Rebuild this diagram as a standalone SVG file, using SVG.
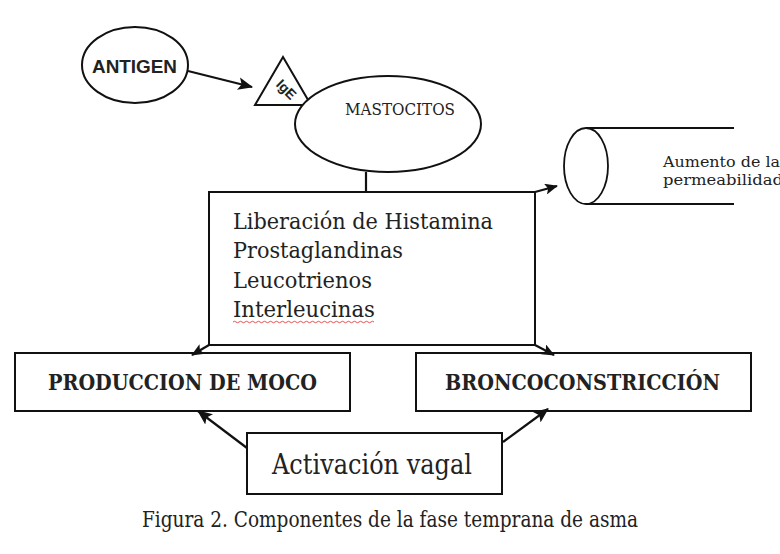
<svg xmlns="http://www.w3.org/2000/svg" width="780" height="554" viewBox="0 0 780 554">
<defs>
<marker id="ah" viewBox="0 0 14 12" refX="13" refY="6" markerWidth="15" markerHeight="13" orient="auto" markerUnits="userSpaceOnUse">
<path d="M0,0 L14,6 L0,12 L3,6 Z" fill="#111"/>
</marker>
<marker id="ahs" viewBox="0 0 14 12" refX="13" refY="6" markerWidth="14" markerHeight="11" orient="auto" markerUnits="userSpaceOnUse">
<path d="M0,0 L14,6 L0,12 L3,6 Z" fill="#111"/>
</marker>
</defs>
<style>
.shape{fill:#fff;stroke:#111;stroke-width:2}
.line{fill:none;stroke:#111;stroke-width:2.2}
.serif{font-family:"DejaVu Serif","Liberation Serif",serif;fill:#222}
.sans{font-family:"Liberation Sans",Arial,sans-serif;font-weight:bold;fill:#222}
</style>
<rect width="780" height="554" fill="#fff"/>

<g id="antigen">
<ellipse class="shape" cx="135" cy="65" rx="53" ry="38"/>
<text class="sans" x="92" y="73" font-size="18" textLength="85" lengthAdjust="spacingAndGlyphs">ANTIGEN</text>
</g>

<g id="ige">
<polygon class="shape" points="255,105 283,57 311,105"/>
<text class="sans" x="0" y="0" font-size="14" text-anchor="middle" transform="translate(283,93) rotate(45)">IgE</text>
</g>

<g id="mastocitos">
<ellipse class="shape" cx="388" cy="124" rx="93" ry="48"/>
<text class="serif" x="345" y="115" font-size="17" fill="#333" textLength="110" lengthAdjust="spacingAndGlyphs">MASTOCITOS</text>
</g>

<g id="permeabilidad">
<line class="line" x1="586" y1="128" x2="734" y2="128" stroke-width="1.8"/>
<line class="line" x1="586" y1="204" x2="734" y2="204" stroke-width="1.8"/>
<ellipse cx="586" cy="166" rx="22" ry="38" fill="none" stroke="#111" stroke-width="1.8"/>
<text class="serif" x="663" y="167" font-size="15" textLength="117" lengthAdjust="spacingAndGlyphs">Aumento de la</text>
<text class="serif" x="663" y="185" font-size="15" textLength="120" lengthAdjust="spacingAndGlyphs">permeabilidad</text>
</g>

<g id="mediadores">
<rect class="shape" x="209" y="192" width="326" height="153"/>
<text class="serif" x="233" y="229" font-size="22" textLength="260" lengthAdjust="spacingAndGlyphs">Liberación de Histamina</text>
<text class="serif" x="233" y="258" font-size="22" textLength="170" lengthAdjust="spacingAndGlyphs">Prostaglandinas</text>
<text class="serif" x="233" y="288" font-size="22" textLength="139" lengthAdjust="spacingAndGlyphs">Leucotrienos</text>
<text class="serif" x="233" y="317" font-size="22" textLength="142" lengthAdjust="spacingAndGlyphs">Interleucinas</text>
<path d="M233,322 q1.5,-1.5 3,0 t3,0 t3,0 t3,0 t3,0 t3,0 t3,0 t3,0 t3,0 t3,0 t3,0 t3,0 t3,0 t3,0 t3,0 t3,0 t3,0 t3,0 t3,0 t3,0 t3,0 t3,0 t3,0 t3,0 t3,0 t3,0 t3,0 t3,0 t3,0 t3,0 t3,0 t3,0 t3,0 t3,0 t3,0 t3,0 t3,0 t3,0 t3,0 t3,0 t3,0 t3,0 t3,0 t3,0 t3,0 t3,0 t3,0" fill="none" stroke="#e04040" stroke-width="0.9"/>
</g>

<g id="moco">
<rect class="shape" x="15" y="353" width="335" height="58"/>
<text class="serif" x="48" y="390" font-size="22" font-weight="bold" textLength="269" lengthAdjust="spacingAndGlyphs">PRODUCCION DE MOCO</text>
</g>

<g id="bronco">
<rect class="shape" x="416" y="353" width="335" height="58"/>
<text class="serif" x="445" y="390" font-size="22" font-weight="bold" textLength="275" lengthAdjust="spacingAndGlyphs">BRONCOCONSTRICCIÓN</text>
</g>

<g id="vagal">
<rect class="shape" x="247" y="433" width="255" height="61"/>
<text class="serif" x="272" y="474" font-size="27" textLength="200" lengthAdjust="spacingAndGlyphs">Activación vagal</text>
</g>

<g id="connectors">
<line class="line" x1="188" y1="71" x2="252" y2="87" stroke-width="3.2" marker-end="url(#ah)"/>
<line class="line" x1="366" y1="172" x2="366" y2="192" stroke-width="3"/>
<line class="line" x1="535" y1="192" x2="557" y2="186" marker-end="url(#ahs)"/>
<line class="line" x1="209" y1="345" x2="192" y2="355" marker-end="url(#ahs)"/>
<line class="line" x1="535" y1="345" x2="554" y2="355" marker-end="url(#ahs)"/>
<line class="line" x1="247" y1="448" x2="198" y2="411" stroke-width="3" marker-end="url(#ah)"/>
<line class="line" x1="503" y1="442" x2="548" y2="409" stroke-width="3" marker-end="url(#ah)"/>
</g>

<g id="caption">
<text class="serif" x="142" y="527" font-size="23" textLength="496" lengthAdjust="spacingAndGlyphs">Figura 2. Componentes de la fase temprana de asma</text>
</g>
</svg>
